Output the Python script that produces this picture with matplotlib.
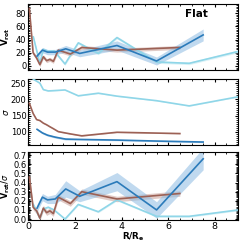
import numpy as np
import matplotlib.pyplot as plt
from matplotlib.ticker import MultipleLocator, AutoMinorLocator

# ---------------------------------------------------------------
# Dados

# curva azul escura
x_blue = [0.37, 0.6, 0.82, 1.15, 1.6, 2.2, 3.8, 5.5, 7.5]
v_blue = [15, 24, 21, 21, 26, 19, 31, 7.5, 47]
ev_blue = [4, 4, 4, 4, 5, 5, 7, 6, 9]
s_blue = [108, 97, 90, 84, 78, 77, 75, 72, 69]
es_blue = [3, 3, 3, 3, 3, 2, 2, 2, 2]
vs_blue = [0.12, 0.24, 0.21, 0.22, 0.33, 0.25, 0.41, 0.1, 0.66]
evs_blue = [0.04, 0.04, 0.04, 0.05, 0.09, 0.06, 0.1, 0.09, 0.12]

# curva marrom
x_brown = [0.04, 0.2, 0.35, 0.49, 0.64, 0.78, 0.92, 1.07, 1.28, 1.8, 2.29, 3.8, 6.5]
v_brown = [87, 20, 12, 2, 14, 8, 10, 7, 24, 18, 28, 24, 28]
ev_brown = [3, 3, 3, 3, 3, 3, 3, 3, 3, 3, 3, 3, 3]
s_brown = [188, 157, 138, 135, 127, 122, 116, 110, 101, 94, 88, 99, 95]
es_brown = [1, 1, 1, 1, 1, 1, 1, 1, 1, 1, 1, 1, 1]
vs_brown = [0.46, 0.13, 0.09, 0.01, 0.12, 0.07, 0.09, 0.06, 0.24, 0.17, 0.3, 0.22, 0.28]
evs_brown = [0.03, 0.03, 0.03, 0.03, 0.03, 0.03, 0.03, 0.03, 0.03, 0.03, 0.03, 0.03, 0.03]

# curva azul clara
x_cyan = [0.21, 0.49, 0.64, 0.85, 1.1, 1.57, 2.14, 3.0, 3.8, 5.5, 6.9, 9.0]
v_cyan = [44, 4, 25, 22, 23, 3, 35, 19, 43, 6, 4, 22]
ev_cyan = [2, 2, 2, 2, 2, 2, 2, 2, 2, 2, 2, 2]
s_cyan = [262, 250, 230, 226, 227, 229, 211, 219, 210, 196, 180, 208]
es_cyan = [1, 1, 1, 1, 1, 1, 1, 1, 1, 1, 1, 1]
vs_cyan = [0.16, 0.01, 0.11, 0.13, 0.1, 0.0, 0.16, 0.08, 0.21, 0.03, 0.03, 0.1]
evs_cyan = [0.01, 0.01, 0.01, 0.01, 0.01, 0.01, 0.01, 0.01, 0.01, 0.01, 0.01, 0.01]

xticks = [0, 2, 4, 6, 8]

# ---------------------------------------------------------------
c_blue, f_blue = '#2b7bba', '#8dbbe2'
c_brown, f_brown = '#9c6155', '#c9a199'
c_cyan, f_cyan = '#8fd6e8', '#bfe8f2'

fig = plt.figure(figsize=(2.41, 2.42), dpi=100)
ax1 = fig.add_axes([0.118, 0.711, 0.870, 0.273])
ax2 = fig.add_axes([0.118, 0.401, 0.870, 0.273])
ax3 = fig.add_axes([0.118, 0.091, 0.870, 0.281])

def curva(ax, x, y, e, c, f, lw=1.2, al=0.55):
    x = np.array(x); y = np.array(y); e = np.array(e)
    ax.fill_between(x, y - e, y + e, color=f, alpha=al, lw=0, zorder=2)
    ax.plot(x, y, color=c, lw=lw, zorder=3)

curva(ax1, x_cyan, v_cyan, ev_cyan, c_cyan, f_cyan)
curva(ax1, x_brown, v_brown, ev_brown, c_brown, f_brown)
curva(ax1, x_blue, v_blue, ev_blue, c_blue, f_blue)

curva(ax2, x_cyan, s_cyan, es_cyan, c_cyan, f_cyan)
curva(ax2, x_brown, s_brown, es_brown, c_brown, f_brown)
curva(ax2, x_blue, s_blue, es_blue, c_blue, f_blue)

curva(ax3, x_cyan, vs_cyan, evs_cyan, c_cyan, f_cyan)
curva(ax3, x_brown, vs_brown, evs_brown, c_brown, f_brown)
curva(ax3, x_blue, vs_blue, evs_blue, c_blue, f_blue)

ax1.set_ylim(-6, 94)
ax2.set_ylim(60, 263)
ax3.set_ylim(-0.01, 0.735)

ax1.yaxis.set_major_locator(MultipleLocator(20))
ax2.yaxis.set_major_locator(MultipleLocator(50))
ax3.yaxis.set_major_locator(MultipleLocator(0.1))

for ax in (ax1, ax2, ax3):
    ax.set_xlim(0, 9)
    ax.set_xticks(xticks)
    ax.xaxis.set_minor_locator(MultipleLocator(0.5))
    ax.yaxis.set_minor_locator(AutoMinorLocator(8))
    ax.tick_params(which='both', direction='in', top=True, right=True, pad=1.5)
    ax.tick_params(axis='y', labelsize=6)
    ax.tick_params(axis='x', labelsize=6.8)
    ax.tick_params(which='major', length=2.5, width=0.8)
    ax.tick_params(which='minor', length=1.5, width=0.6)
    for s in ax.spines.values():
        s.set_linewidth(0.8)

ax1.tick_params(labelbottom=False)
ax2.tick_params(labelbottom=False)

ax1.set_ylabel(r'$\mathbf{V}_{\mathbf{rot}}$', fontsize=6.2)
ax2.set_ylabel(r'$\sigma$', fontsize=6.2)
ax3.set_ylabel(r'$\mathbf{V}_{\mathbf{rot}}\mathbf{/}\sigma$', fontsize=5.8)
ax1.yaxis.set_label_coords(-0.08, 0.5)
ax2.yaxis.set_label_coords(-0.085, 0.5)
ax3.yaxis.set_label_coords(-0.078, 0.5)
ax3.set_xlabel(r'$\mathbf{R/R_e}$', fontsize=6.3)
ax3.xaxis.set_label_coords(0.5, -0.15)

ax1.text(0.80, 0.84, 'Flat', transform=ax1.transAxes, ha='center', va='center',
         fontsize=7.5, fontweight='bold')

fig.savefig('out.png', dpi=100)
